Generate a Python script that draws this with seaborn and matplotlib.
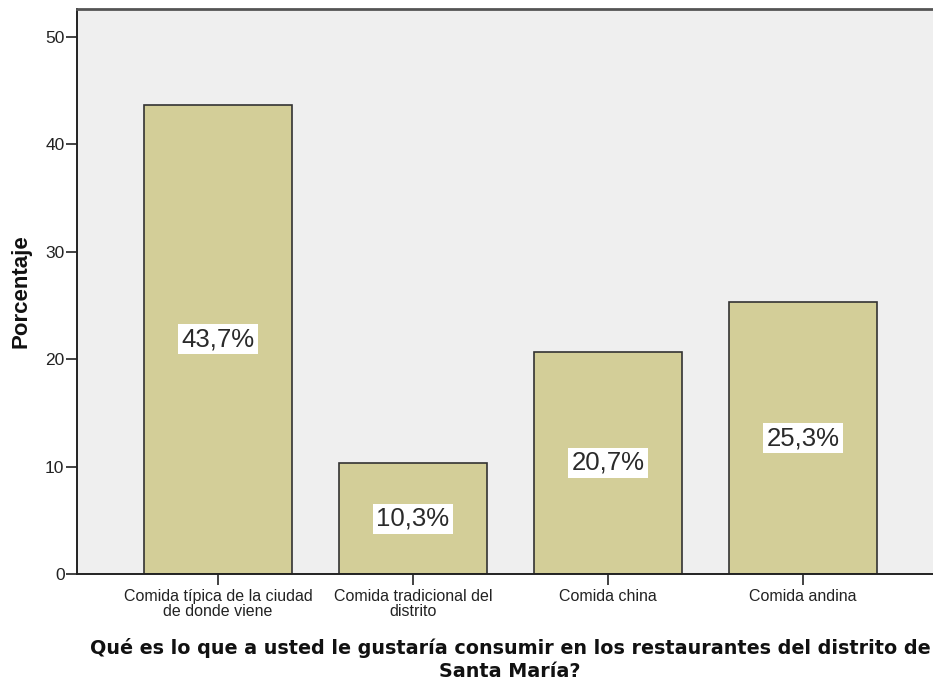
import matplotlib
matplotlib.use("Agg")
import matplotlib.pyplot as plt
import seaborn as sns
import pandas as pd

categories = [
    "Comida típica de la ciudad\nde donde viene",
    "Comida tradicional del\ndistrito",
    "Comida china",
    "Comida andina",
]
percentages = [43.7, 10.3, 20.7, 25.3]
value_labels = ["43,7%", "10,3%", "20,7%", "25,3%"]
y_ticks = [0, 10, 20, 30, 40, 50]

x_title = ("Qué es lo que a usted le gustaría consumir en los restaurantes del distrito de\n"
           "Santa María?")
y_title = "Porcentaje"

df = pd.DataFrame({"categoria": categories, "porcentaje": percentages})

sns.set_style("white")
plt.rcParams["font.family"] = ["Liberation Sans", "DejaVu Sans"]

W, H = 933, 684
fig = plt.figure(figsize=(W / 100, H / 100), dpi=100)
ax = fig.add_axes([77 / W, (H - 574) / H, (W - 77) / W, (574 - 9) / H])
ax.set_facecolor("#EFEFEF")

sns.barplot(data=df, x="categoria", y="porcentaje", ax=ax, color="#D3CE98",
            saturation=1, width=0.755, edgecolor="#333333", linewidth=1.2)

ax.set_xlim(-0.723, 3.667)
ax.set_ylim(0, 52.6)
ax.set_yticks(y_ticks)
ax.set_yticklabels([str(t) for t in y_ticks], fontsize=12.5, color="#222222")
ax.tick_params(axis="x", colors="#222222", length=8, width=1.2,
               direction="out", bottom=True, pad=3)
ax.tick_params(axis="y", length=8, width=1.2, direction="out", left=True, pad=1,
               colors="#222222")
for lbl in ax.get_xticklabels():
    lbl.set_fontsize(11.5)
    lbl.set_color("#222222")
    lbl.set_linespacing(0.95)

for side in ["left", "bottom", "top"]:
    ax.spines[side].set_visible(True)
    ax.spines[side].set_color("#222222")
    ax.spines[side].set_linewidth(1.4)
ax.spines["right"].set_visible(False)
ax.spines["top"].set_color("#555555")
ax.spines["top"].set_linewidth(2.0)

for i, (v, txt) in enumerate(zip(percentages, value_labels)):
    ax.text(i, v / 2, txt, ha="center", va="center", fontsize=18.5, color="#2a2a2a",
            bbox=dict(boxstyle="square,pad=0.12", facecolor="white", edgecolor="none"))

ax.set_xlabel(x_title, fontsize=13.8, fontweight="bold", family="DejaVu Sans",
              linespacing=1.25, color="#111111")
ax.xaxis.set_label_coords(0.506, -0.113)
ax.set_ylabel(y_title, fontsize=16, fontweight="bold", labelpad=10, color="#111111")

fig.savefig("out.png", dpi=100, facecolor="white")
